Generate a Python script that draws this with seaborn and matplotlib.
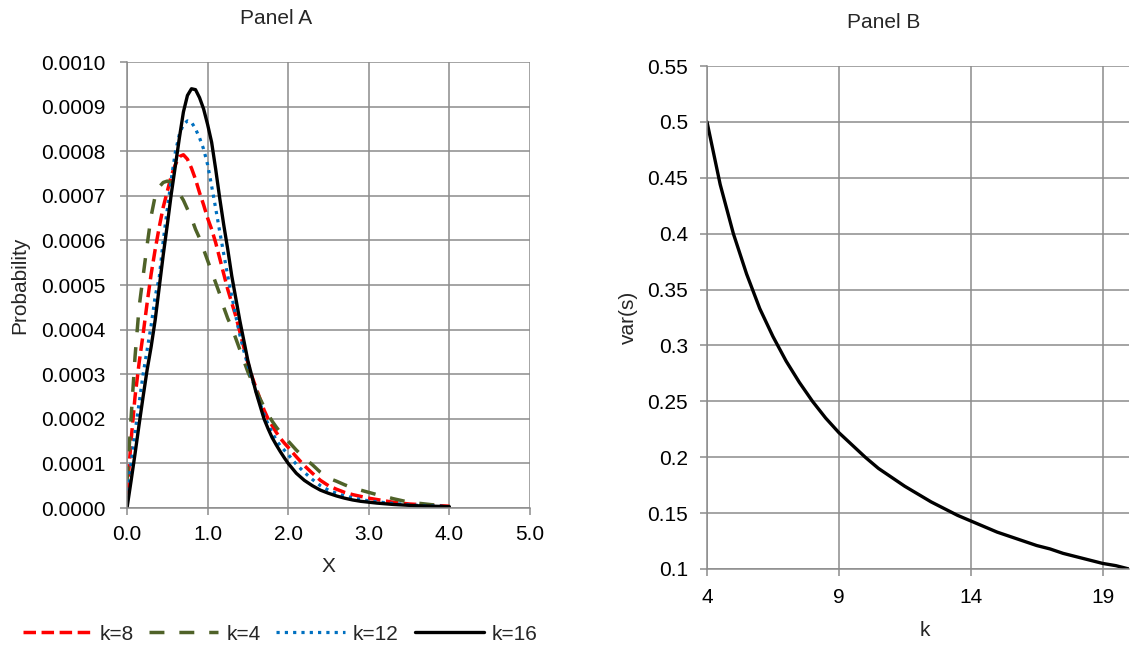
import numpy as np
import pandas as pd
import seaborn as sns
import matplotlib.pyplot as plt

sns.set_theme(style="white")
plt.rcParams["font.family"] = ["Liberation Sans", "DejaVu Sans"]

# -----------------------------
# Panel A data (probability, in units of 1e-4)
# -----------------------------
x_vals = [0.00, 0.05, 0.10, 0.15, 0.20, 0.25, 0.30, 0.35, 0.40, 0.45,
          0.50, 0.55, 0.60, 0.65, 0.70, 0.75, 0.80, 0.85, 0.90, 0.95,
          1.00, 1.05, 1.10, 1.15, 1.20, 1.25, 1.30, 1.35, 1.40, 1.45,
          1.50, 1.55, 1.60, 1.65, 1.70, 1.75, 1.80, 1.85, 1.90, 1.95,
          2.0, 2.1, 2.2, 2.3, 2.4, 2.5, 2.6, 2.7, 2.8, 2.9,
          3.0, 3.1, 3.2, 3.3, 3.4, 3.5, 3.6, 3.7, 3.8, 3.9, 4.0]

k8 = [0.3, 1.5, 2.5, 3.25, 3.9, 4.6, 5.25, 5.8, 6.3, 6.75,
      7.1, 7.45, 7.7, 7.88, 7.92, 7.82, 7.62, 7.37, 7.07, 6.8,
      6.5, 6.25, 5.95, 5.6, 5.25, 4.9, 4.6, 4.3, 3.95, 3.6,
      3.25, 2.95, 2.7, 2.45, 2.2, 2.0, 1.85, 1.7, 1.57, 1.46,
      1.36, 1.15, 0.95, 0.78, 0.62, 0.5, 0.42, 0.35, 0.3, 0.26,
      0.22, 0.19, 0.16, 0.13, 0.11, 0.09, 0.08, 0.07, 0.06, 0.05, 0.04]

k4 = [0.6, 2.0, 3.4, 4.5, 5.2, 5.9, 6.55, 7.0, 7.2, 7.3,
      7.33, 7.3, 7.2, 7.05, 6.9, 6.7, 6.5, 6.25, 6.05, 5.8,
      5.55, 5.3, 5.05, 4.8, 4.5, 4.25, 4.05, 3.8, 3.55, 3.3,
      3.05, 2.85, 2.65, 2.45, 2.27, 2.1, 1.95, 1.82, 1.7, 1.6,
      1.5, 1.3, 1.12, 0.97, 0.8, 0.67, 0.6, 0.52, 0.45, 0.4,
      0.35, 0.3, 0.26, 0.21, 0.17, 0.13, 0.11, 0.09, 0.07, 0.06, 0.05]

k12 = [0.2, 1.0, 1.7, 2.35, 3.0, 3.55, 4.1, 4.75, 5.17, 6.0,
       6.7, 7.38, 7.98, 8.38, 8.6, 8.68, 8.65, 8.5, 8.3, 8.05,
       7.7, 7.22, 6.72, 6.2, 5.7, 5.2, 4.75, 4.3, 3.88, 3.52,
       3.2, 2.9, 2.62, 2.35, 2.1, 1.88, 1.7, 1.53, 1.4, 1.3,
       1.2, 0.98, 0.8, 0.64, 0.5, 0.4, 0.33, 0.27, 0.23, 0.19,
       0.16, 0.14, 0.12, 0.1, 0.09, 0.07, 0.06, 0.05, 0.045, 0.04, 0.03]

k16 = [0.0, 0.6, 1.22, 1.87, 2.5, 3.1, 3.62, 4.22, 4.95, 5.68,
       6.35, 7.05, 7.67, 8.3, 8.88, 9.25, 9.4, 9.38, 9.2, 8.95,
       8.6, 8.2, 7.6, 6.95, 6.35, 5.8, 5.2, 4.7, 4.2, 3.75,
       3.3, 2.95, 2.6, 2.3, 2.0, 1.78, 1.58, 1.42, 1.27, 1.13,
       1.0, 0.78, 0.62, 0.5, 0.4, 0.33, 0.27, 0.22, 0.18, 0.15,
       0.13, 0.11, 0.095, 0.08, 0.07, 0.06, 0.05, 0.045, 0.04, 0.035, 0.03]

a_xticks = [0, 1, 2, 3, 4, 5]
a_xlabels = ["0.0", "1.0", "2.0", "3.0", "4.0", "5.0"]
a_yticks = [0.0, 0.0001, 0.0002, 0.0003, 0.0004, 0.0005,
            0.0006, 0.0007, 0.0008, 0.0009, 0.0010]
a_ylabels = ["0.0000", "0.0001", "0.0002", "0.0003", "0.0004", "0.0005",
             "0.0006", "0.0007", "0.0008", "0.0009", "0.0010"]

# -----------------------------
# Panel B data
# -----------------------------
k_vals = [4, 4.5, 5, 5.5, 6, 6.5, 7, 7.5, 8, 8.5, 9, 9.5, 10, 10.5, 11, 11.5,
          12, 12.5, 13, 13.5, 14, 14.5, 15, 15.5, 16, 16.5, 17, 17.5, 18,
          18.5, 19, 19.5, 20]
var_s = [0.5, 0.444, 0.4, 0.364, 0.333, 0.308, 0.286, 0.267, 0.25, 0.235,
         0.222, 0.211, 0.2, 0.19, 0.182, 0.174, 0.167, 0.16, 0.154, 0.148,
         0.143, 0.138, 0.133, 0.129, 0.125, 0.121, 0.118, 0.114, 0.111,
         0.108, 0.105, 0.103, 0.1]

b_xticks = [4, 9, 14, 19]
b_yticks = [0.1, 0.15, 0.2, 0.25, 0.3, 0.35, 0.4, 0.45, 0.5, 0.55]
b_ylabels = ["0.1", "0.15", "0.2", "0.25", "0.3", "0.35", "0.4", "0.45", "0.5", "0.55"]

GRID = "#8c8c8c"
FS = 15
W, H = 1135, 648

fig = plt.figure(figsize=(W / 100, H / 100), dpi=100)
axA = fig.add_axes([127 / W, 1 - 508 / H, (530 - 127) / W, (508 - 62) / H])
axB = fig.add_axes([707 / W, 1 - 569 / H, (1129 - 707) / W, (569 - 66) / H])

# Panel A lines
series = [
    ("k=8", k8, "#ff0000", (0, (3.6, 1.6)), 2.5),
    ("k=4", k4, "#4f6228", (0, (4.3, 4.3)), 2.5),
    ("k=12", k12, "#0070c0", (0, (1, 1.6)), 2.3),
    ("k=16", k16, "black", "-", 2.4),
]
for name, vals, col, ls, lw in series:
    sns.lineplot(x=x_vals, y=np.array(vals) * 1e-4, ax=axA, color=col,
                 linestyle=ls, linewidth=lw, label=name, errorbar=None)

handles, labels = axA.get_legend_handles_labels()
if axA.get_legend() is not None:
    axA.get_legend().remove()

axA.set_xlim(0, 5)
axA.set_ylim(0, 0.001)
axA.set_xticks(a_xticks)
axA.set_xticklabels(a_xlabels)
axA.set_yticks(a_yticks)
axA.set_yticklabels(a_ylabels)

# Panel B line
sns.lineplot(x=k_vals, y=var_s, ax=axB, color="black", linewidth=2.4, errorbar=None)
axB.set_xlim(4, 20)
axB.set_ylim(0.1, 0.55)
axB.set_xticks(b_xticks)
axB.set_xticklabels([str(t) for t in b_xticks])
axB.set_yticks(b_yticks)
axB.set_yticklabels(b_ylabels)

for ax in (axA, axB):
    ax.grid(True, color=GRID, linewidth=1.1)
    ax.set_axisbelow(True)
    for s in ("top", "right"):
        ax.spines[s].set_visible(False)
    for s in ("left", "bottom"):
        ax.spines[s].set_color(GRID)
        ax.spines[s].set_linewidth(1.1)
    ax.tick_params(axis="both", which="major", bottom=True, left=True,
                   direction="out", length=5, width=1.1, color=GRID,
                   labelsize=FS, labelcolor="black")

axA.tick_params(axis="y", pad=10.5)
axA.tick_params(axis="x", pad=7.5)
axB.tick_params(axis="y", pad=8.5)
axB.tick_params(axis="x", pad=8.5)

# axis labels
axA.set_xlabel("X", fontsize=FS, va="center")
axA.xaxis.set_label_coords(0.5, -(567 - 508) / 446)
axA.set_ylabel("Probability", fontsize=FS, va="center", ha="center")
axA.yaxis.set_label_coords((20 - 127) / 403, 0.5)

axB.set_xlabel("k", fontsize=FS, va="center")
axB.xaxis.set_label_coords((925 - 707) / 422, -(630 - 569) / 503)
axB.set_ylabel("var(s)", fontsize=FS, va="center", ha="center")
axB.yaxis.set_label_coords((628 - 707) / 422, 0.5)

fig.text(276 / W, 1 - 18 / H, "Panel A", ha="center", va="center", fontsize=FS)
fig.text(884 / W, 1 - 22 / H, "Panel B", ha="center", va="center", fontsize=FS)

fig.legend(handles, labels, loc="center", bbox_to_anchor=(280 / W, 1 - 634 / H),
           ncol=4, frameon=False, fontsize=FS, handlelength=3.3,
           handletextpad=0.38, columnspacing=0.77)

fig.savefig("out.png", dpi=100)
